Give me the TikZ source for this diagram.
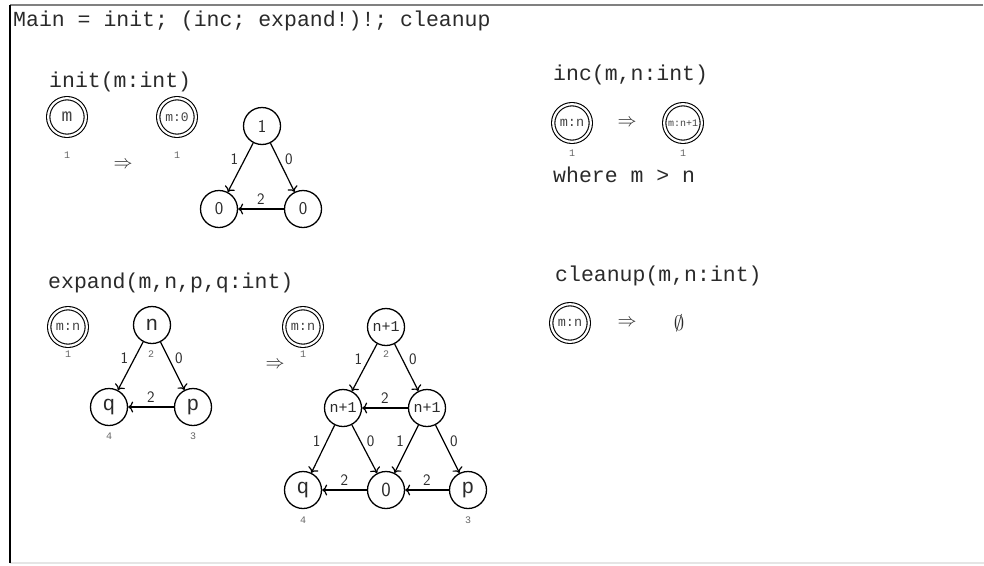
\RequirePackage{fix-cm}
\documentclass[tikz,border=0pt]{standalone}
\usepackage{fontspec}
\setmainfont{Liberation Sans}
\setmonofont{Liberation Mono}
\usetikzlibrary{arrows.meta}
\definecolor{txt}{HTML}{2A2A2A}
\definecolor{idxc}{HTML}{666666}
\definecolor{inc}{HTML}{444444}
\tikzset{
  title/.style={anchor=base west, inner sep=0pt, text=txt, font=\fontsize{21.5}{21.5}\selectfont\ttfamily},
  vnode/.style={circle, draw=black, line width=1.3pt, minimum size=37pt, inner sep=0pt, text=txt},
  vsans/.style={vnode, font=\fontsize{18}{18}\selectfont\sffamily},
  vmono/.style={vnode, font=\fontsize{21}{21}\selectfont\ttfamily},
  vmonos/.style={vnode, font=\fontsize{15}{15}\selectfont\ttfamily},
  dnode/.style={circle, draw=black, line width=1.1pt, double=white, double distance=2.2pt, minimum size=37.6pt, inner sep=0pt, text=inc},
  idx/.style={inner sep=0pt, text=idxc, font=\fontsize{10}{10}\selectfont\ttfamily},
  lab/.style={inner sep=1pt, text=txt, font=\fontsize{16}{16}\selectfont\sffamily},
  arr/.style={-{Computer Modern Rightarrow[length=5pt,width=11pt]}, line width=1.2pt},
  sym/.style={inner sep=0pt, text=txt, font=\fontsize{19}{19}\selectfont},
  ll/.style={lab, pos=0.33, left=5pt},
  rl/.style={lab, pos=0.33, right=5pt},
  al/.style={lab, midway, above=3pt}
}
\begin{document}
\begin{tikzpicture}[x=1pt,y=-1pt]
\useasboundingbox (0,0) rectangle (984,565);
% frame
\coordinate (ftl) at (10,5);
\coordinate (ftr) at (983,5);
\coordinate (fbl) at (10,563);
\coordinate (fbr) at (984,563);
\draw[line width=1.5pt, color=gray] (ftl) -- (ftr);
\draw[line width=1.5pt, color=black!10] (fbl) -- (fbr);
\draw[line width=1.5pt, color=black] (ftl) -- (fbl);

\node[title] (main) at (13,26) {Main = init; (inc; expand!)!; cleanup};

% init
\node[title] (tinit) at (49,87) {init(m:int)};
\node[dnode, font=\fontsize{18}{18}\selectfont\ttfamily] (i1) at (67,117) {m};
\node[idx] (i1i) at (67,155) {1};
\node[sym] (iar) at (123,165) {$\Rightarrow$};
\node[dnode, font=\fontsize{13}{13}\selectfont\ttfamily] (i2) at (177,117) {m:0};
\node[idx] (i2i) at (177,155) {1};
\node[vsans] (it) at (262,126) {1};
\node[vsans] (il) at (219,209) {0};
\node[vsans] (ir) at (303,209) {0};
\draw[arr] (it) -- node[ll] {1} (il);
\draw[arr] (it) -- node[rl] {0} (ir);
\draw[arr] (ir) -- node[al] {2} (il);

% inc
\node[title] (tinc) at (553,80) {inc(m,n:int)};
\node[dnode, font=\fontsize{13.5}{13.5}\selectfont\ttfamily] (c1) at (572,123) {m:n};
\node[idx] (c1i) at (572,153) {1};
\node[sym] (car) at (627,123) {$\Rightarrow$};
\node[dnode, font=\fontsize{10}{10}\selectfont\ttfamily] (c2) at (683,123) {m:n+1};
\node[idx] (c2i) at (683,153) {1};
\node[title] (where) at (553,182) {where m > n};

% expand
\node[title] (texp) at (48,288) {expand(m,n,p,q:int)};
\node[dnode, font=\fontsize{13.5}{13.5}\selectfont\ttfamily] (e1) at (68,327) {m:n};
\node[idx] (e1i) at (68,354) {1};
\node[vmono] (en) at (152,325) {n};
\node[idx] (eni) at (151,354) {2};
\node[vmono] (eq) at (109,407) {q};
\node[idx] (eqi) at (109,436) {4};
\node[vmono] (ep) at (193,407) {p};
\node[idx] (epi) at (193,436) {3};
\draw[arr] (en) -- node[ll] {1} (eq);
\draw[arr] (en) -- node[rl] {0} (ep);
\draw[arr] (ep) -- node[al] {2} (eq);

\node[sym] (ear) at (275,365) {$\Rightarrow$};

\node[dnode, font=\fontsize{13.5}{13.5}\selectfont\ttfamily] (f1) at (303,327) {m:n};
\node[idx] (f1i) at (303,354) {1};
\node[vmonos] (fa) at (386,327) {n+1};
\node[idx] (fai) at (386,354) {2};
\node[vmonos] (fb) at (343,408) {n+1};
\node[vmonos] (fc) at (427,408) {n+1};
\node[vmono] (fq) at (303,490) {q};
\node[idx] (fqi) at (303,520) {4};
\node[vsans, font=\fontsize{20}{20}\selectfont\sffamily] (fz) at (386,490) {0};
\node[vmono] (fp) at (468,490) {p};
\node[idx] (fpi) at (468,520) {3};
\draw[arr] (fa) -- node[ll] {1} (fb);
\draw[arr] (fa) -- node[rl] {0} (fc);
\draw[arr] (fc) -- node[al] {2} (fb);
\draw[arr] (fb) -- node[ll] {1} (fq);
\draw[arr] (fb) -- node[rl] {0} (fz);
\draw[arr] (fc) -- node[ll] {1} (fz);
\draw[arr] (fc) -- node[rl] {0} (fp);
\draw[arr] (fz) -- node[al] {2} (fq);
\draw[arr] (fp) -- node[al] {2} (fz);

% cleanup
\node[title] (tcl) at (555,281) {cleanup(m,n:int)};
\node[dnode, font=\fontsize{13.5}{13.5}\selectfont\ttfamily] (k1) at (570,323) {m:n};
\node[sym] (kar) at (627,323) {$\Rightarrow$};
\node[sym, font=\fontsize{21}{21}\selectfont] (kemp) at (679,323) {$\emptyset$};
\end{tikzpicture}
\end{document}
